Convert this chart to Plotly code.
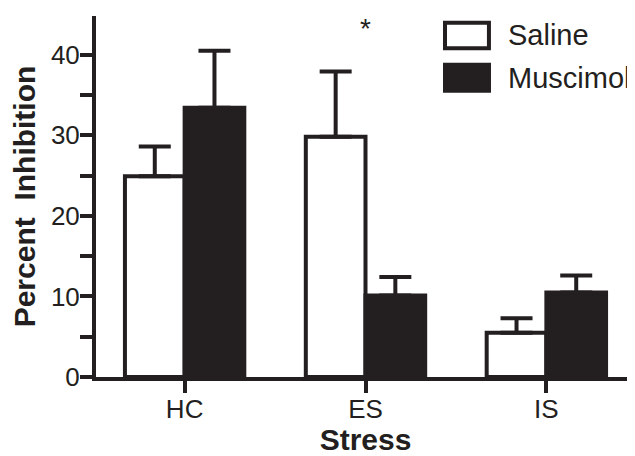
import plotly.graph_objects as go

categories = ["HC", "ES", "IS"]
saline = [24.9, 29.8, 5.5]
saline_err = [3.7, 8.1, 1.8]
muscimol = [33.4, 10.1, 10.5]
muscimol_err = [7.1, 2.3, 2.1]
y_ticks = [0, 10, 20, 30, 40]
series_names = ["Saline", "Muscimol"]

INK = "#231f20"
FONT = "Liberation Sans, Arial, Helvetica, sans-serif"

fig = go.Figure()
fig.add_trace(go.Bar(
    x=categories, y=saline, name=series_names[0],
    marker=dict(color="white", line=dict(color=INK, width=4)),
    error_y=dict(type="data", array=saline_err, arrayminus=[0] * 3, symmetric=False,
                 color=INK, thickness=4, width=16),
    showlegend=False,
))
fig.add_trace(go.Bar(
    x=categories, y=muscimol, name=series_names[1],
    marker=dict(color=INK, line=dict(color=INK, width=4)),
    error_y=dict(type="data", array=muscimol_err, arrayminus=[0] * 3, symmetric=False,
                 color=INK, thickness=4, width=16),
    showlegend=False,
))

# custom legend (large swatches like the reference)
fig.add_shape(type="rect", xref="paper", yref="paper", x0=0.6475, x1=0.729, y0=0.911, y1=0.981,
              fillcolor="white", line=dict(color=INK, width=4))
fig.add_shape(type="rect", xref="paper", yref="paper", x0=0.6438, x1=0.7328, y0=0.7875, y1=0.8706,
              fillcolor=INK, line=dict(width=0))
fig.add_annotation(xref="paper", yref="paper", x=0.760, y=0.947, text=series_names[0],
                   showarrow=False, xanchor="left", yanchor="middle",
                   font=dict(family=FONT, size=29, color=INK))
fig.add_annotation(xref="paper", yref="paper", x=0.760, y=0.829, text=series_names[1],
                   showarrow=False, xanchor="left", yanchor="middle",
                   font=dict(family=FONT, size=29, color=INK))

# significance marker
fig.add_annotation(x="ES", y=43.3, text="*", showarrow=False, yanchor="middle",
                   font=dict(family=FONT, size=28, color=INK))

# The page body has an 8px margin: size the figure so it ends at the window edge.
fig.update_layout(
    width=627, height=448,
    margin=dict(l=88, r=0, t=8, b=79),
    paper_bgcolor="white", plot_bgcolor="white",
    barmode="group", bargap=0.34, bargroupgap=0,
    font=dict(family=FONT, color=INK),
    xaxis=dict(
        range=[-0.49, 2.49],
        showline=True, linecolor=INK, linewidth=4,
        ticks="outside", ticklen=12, tickwidth=4, tickcolor=INK,
        tickfont=dict(size=26, color=INK), ticklabelstandoff=-6,
        title=dict(text="<b>Stress</b>", font=dict(size=30, color=INK), standoff=9),
        showgrid=False, zeroline=False,
    ),
    yaxis=dict(
        range=[0, 44.8],
        tickmode="array", tickvals=y_ticks,
        showline=True, linecolor=INK, linewidth=4,
        ticks="outside", ticklen=12, tickwidth=4, tickcolor=INK,
        minor=dict(dtick=5, ticks="outside", ticklen=12, tickwidth=4, tickcolor=INK),
        tickfont=dict(size=26, color=INK), ticklabelstandoff=-5,
        title=dict(text="<b>Percent  Inhibition</b>", font=dict(size=30, color=INK), standoff=7),
        showgrid=False, zeroline=False,
    ),
)

fig.write_html("out.html")
